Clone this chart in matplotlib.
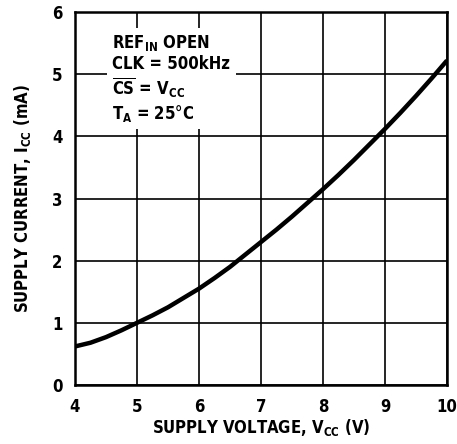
import matplotlib
matplotlib.use("Agg")
import matplotlib.pyplot as plt

FONT = "DejaVu Sans"
plt.rcParams['font.family'] = [FONT]
plt.rcParams['font.stretch'] = 'condensed'
plt.rcParams['mathtext.fontset'] = 'custom'
plt.rcParams['mathtext.rm'] = 'DejaVu Sans:stretch=condensed:bold'
plt.rcParams['mathtext.it'] = 'DejaVu Sans:stretch=condensed:bold'
plt.rcParams['mathtext.bf'] = 'DejaVu Sans:stretch=condensed:bold'

vcc = [4.0, 4.25, 4.5, 4.75, 5.0, 5.25, 5.5, 5.75, 6.0, 6.25, 6.5, 6.75, 7.0,
       7.25, 7.5, 7.75, 8.0, 8.25, 8.5, 8.75, 9.0, 9.25, 9.5, 9.75, 10.0]
icc = [0.62, 0.68, 0.77, 0.88, 1.0, 1.12, 1.25, 1.40, 1.55, 1.72, 1.90, 2.10, 2.30,
       2.50, 2.71, 2.93, 3.15, 3.38, 3.62, 3.87, 4.12, 4.38, 4.65, 4.93, 5.22]
xticks = [4, 5, 6, 7, 8, 9, 10]
yticks = [0, 1, 2, 3, 4, 5, 6]

fig = plt.figure(figsize=(4.57, 4.44), dpi=100)
ax = fig.add_axes([75/457, 1-385/444, (447-75)/457, (385-12)/444])
ax.set_xlim(4, 10)
ax.set_ylim(0, 6)
ax.set_xticks(xticks)
ax.set_yticks(yticks)
ax.grid(True, color='black', linewidth=1.2)
ax.tick_params(length=0, labelsize=12, pad=9)
for lab in ax.get_xticklabels() + ax.get_yticklabels():
    lab.set_fontweight('bold')
    lab.set_fontstretch('condensed')
for s in ax.spines.values():
    s.set_linewidth(1.8)
ax.plot(vcc, icc, color='black', linewidth=3.2, solid_capstyle='butt')

ax.set_xlabel(r'SUPPLY VOLTAGE, V$_{\mathrm{CC}}$ (V)', fontsize=12, fontweight='bold',
              fontstretch='condensed', labelpad=1)
ax.set_ylabel(r'SUPPLY CURRENT, I$_{\mathrm{CC}}$ (mA)', fontsize=12, fontweight='bold',
              fontstretch='condensed', labelpad=14)

txt = ("REF$_{\\mathrm{IN}}$ OPEN\n"
       "CLK = 500kHz\n"
       "$\\overline{\\mathrm{CS}}$ = V$_{\\mathrm{CC}}$\n"
       "T$_{\\mathrm{A}}$ = 25°C")
ax.text(4.6, 5.66, txt, fontsize=12, fontweight='bold', fontstretch='condensed',
        va='top', ha='left', linespacing=1.15,
        bbox=dict(facecolor='white', edgecolor='none', pad=4))

fig.savefig('out.png', dpi=100)
